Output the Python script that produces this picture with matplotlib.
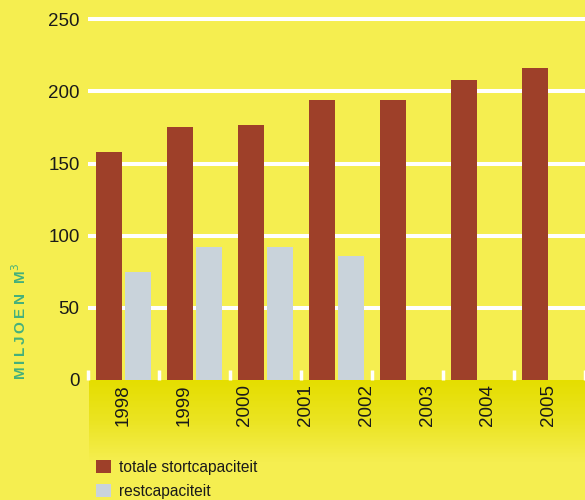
import numpy as np
import matplotlib.pyplot as plt
from matplotlib.colors import LinearSegmentedColormap

# data
totale = [158, 175, 177, 194, 194, 208, 216]
rest = [75, 92, 92, 86]
years = ['1998', '1999', '2000', '2001', '2002', '2003', '2004', '2005']

BG = '#f5ee50'
BROWN = '#9e4029'
GREY = '#c9d3db'
GREEN = '#44b07c'

plt.rcParams['font.family'] = ['Liberation Sans', 'DejaVu Sans']

fig = plt.figure(figsize=(5.85, 5.0), dpi=100, facecolor=BG)

# darker yellow band behind the year labels
band = fig.add_axes([89 / 585, 1 - 462 / 500, 496 / 585, 82 / 500], zorder=0)
cmap = LinearSegmentedColormap.from_list('band', ['#e5de00', '#ebe422', '#f5ee50'])
band.imshow(np.linspace(0, 1, 100).reshape(-1, 1), aspect='auto', cmap=cmap,
            extent=[0, 1, 0, 1])
band.axis('off')

ax = fig.add_axes([88 / 585, 1 - 380 / 500, 497 / 585, 368 / 500], zorder=1)
ax.set_facecolor('none')

w = 0.366
off = 0.204
x_tot = np.arange(len(totale))
x_rest = np.arange(len(rest))
ax.bar(x_tot - off, totale, width=w, color=BROWN, zorder=3,
       label='totale stortcapaciteit')
ax.bar(x_rest + off, rest, width=w, color=GREY, zorder=3,
       label='restcapaciteit')

ax.set_xlim(-0.5, 6.5)
ax.set_ylim(0, 255)
ax.set_yticks([0, 50, 100, 150, 200, 250])
for v in [50, 100, 150, 200, 250]:
    ax.axhline(v, color='white', lw=2.9, zorder=1)

ax.tick_params(axis='y', length=0, pad=6, labelsize=13.5, labelcolor='#1a1a1a')
# year labels (spaced differently from the bar groups, as in the original)
ax.set_xticks(np.arange(len(years)) * 0.855)
ax.set_xticklabels(years, rotation=90, fontsize=13.5, color='#1a1a1a')
ax.tick_params(axis='x', which='major', length=0, pad=3)
ax.set_xticks(np.arange(-0.5, 7.0, 1.0), minor=True)
ax.tick_params(axis='x', which='minor', direction='in', length=7, width=2.5,
               color='white')
for s in ax.spines.values():
    s.set_visible(False)

fig.text(20 / 585, 0.357, 'M\u2009I\u2009L\u2009J\u2009O\u2009E\u2009N\u2009\u2009 M$^{\\mathsf{3}}$',
         rotation=90, ha='center', va='center', color=GREEN,
         fontsize=11, fontweight='bold')

leg = ax.legend(loc='upper left', bbox_to_anchor=(96 / 585, 1 - 460 / 500),
                bbox_transform=fig.transFigure, frameon=False,
                handlelength=0.95, handleheight=0.9, handletextpad=0.5,
                labelspacing=0.55, borderpad=0, borderaxespad=0,
                prop={'family': ['Liberation Sans'], 'size': 11.2})
for t in leg.get_texts():
    t.set_color('#1a1a1a')

fig.savefig('out.png', dpi=100, facecolor=BG)
